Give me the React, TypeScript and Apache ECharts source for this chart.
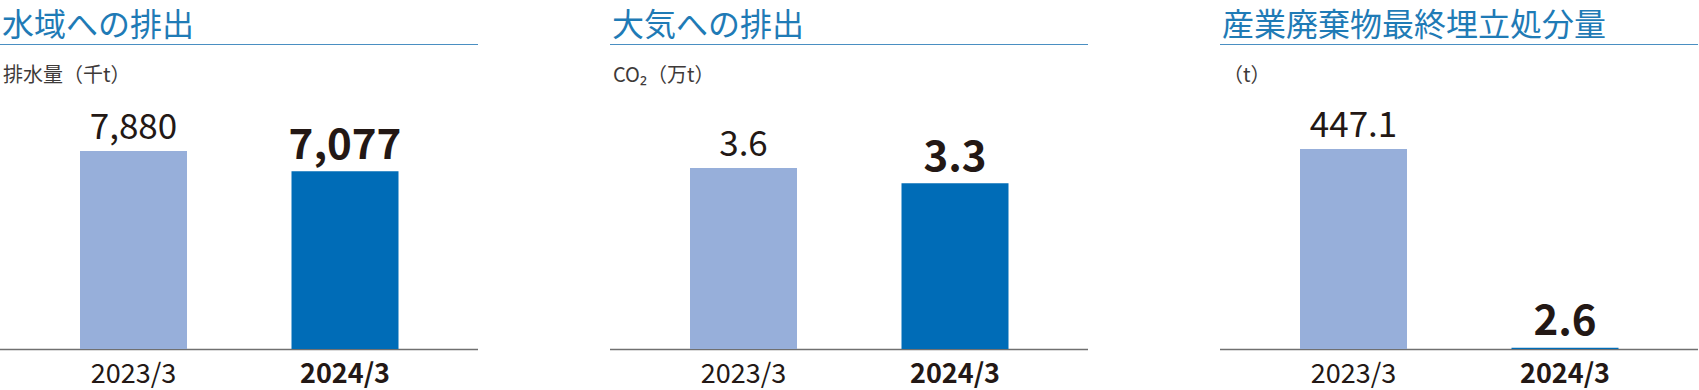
import React, { useEffect, useRef } from "react";
import * as echarts from "echarts";

const categories = ["2023/3", "2024/3"];
const waterDischarge = [7880, 7077];
const airEmissions = [3.6, 3.3];
const landfillWaste = [447.1, 2.6];
const panelTitles = ["水域への排出", "大気への排出", "産業廃棄物最終埋立処分量"];
const unitLabels = ["排水量（千t）", "CO₂（万t）", "（t）"];
const axisMax = [10000, 5, 562];
const decimals = [0, 1, 1];

const FONT = '"Noto Sans CJK JP", "Noto Sans", sans-serif';
const INK = "#231815";
const TITLE_BLUE = "#1f7bb6";
const LIGHT_BAR = "#97afda";
const DARK_BAR = "#006cb7";

const fmt = (v: number, d: number) =>
  v.toLocaleString("en-US", { minimumFractionDigits: d, maximumFractionDigits: d });

export default function App() {
  const ref = useRef<HTMLDivElement>(null);
  useEffect(() => {
    if (!ref.current) return;
    const chart = echarts.init(ref.current, undefined, { renderer: "svg" });
    const seriesValues = [waterDischarge, airEmissions, landfillWaste];
    const P = [1, 611, 1221];
    const PW = 477;
    const baseY = 349;
    const gridTop = 97.7;
    const gridH = baseY - gridTop;

    const titles: any[] = [];
    const graphics: any[] = [];
    P.forEach((px, i) => {
      titles.push({
        text: panelTitles[i],
        left: px + 1,
        top: 6,
        padding: 0,
        textStyle: {
          fontFamily: FONT,
          fontSize: 32,
          lineHeight: 32,
          fontWeight: "normal",
          color: TITLE_BLUE,
        },
      });
      titles.push({
        text: unitLabels[i],
        left: px + 2,
        top: 63,
        padding: 0,
        textStyle: { fontFamily: FONT, fontSize: 20, fontWeight: "normal", color: "#3e3a39" },
      });
      graphics.push({
        type: "line",
        shape: { x1: px - 1, y1: 44.5, x2: px + PW, y2: 44.5 },
        style: { stroke: "#4a8fc2", lineWidth: 1.2 },
        z: 1,
      });
      graphics.push({
        type: "line",
        shape: { x1: px - 1, y1: baseY + 0.5, x2: px + PW, y2: baseY + 0.5 },
        style: { stroke: "#707070", lineWidth: 1.5 },
        z: 1,
      });
    });

    const grids = P.map((px) => ({
      left: px + 26.75,
      width: 423,
      top: gridTop,
      height: gridH,
      containLabel: false,
    }));

    const xAxes = P.map((_, i) => ({
      type: "category",
      gridIndex: i,
      data: categories.map((c, j) =>
        j === 1 ? { value: c, textStyle: { fontWeight: "bold" } } : { value: c }
      ),
      axisLine: { show: false },
      axisTick: { show: false },
      axisLabel: {
        margin: 9,
        fontFamily: FONT,
        fontSize: 27,
        color: INK,
      },
    }));

    const yAxes = P.map((_, i) => ({
      type: "value",
      gridIndex: i,
      min: 0,
      max: axisMax[i],
      show: false,
      splitLine: { show: false },
    }));

    const series = seriesValues.map((vals, i) => ({
      type: "bar",
      xAxisIndex: i,
      yAxisIndex: i,
      barWidth: 107,
      z: 3,
      label: {
        show: true,
        position: "top",
        distance: 10,
        fontFamily: FONT,
        fontSize: 35,
        color: INK,
        formatter: (p: any) => fmt(p.value, decimals[i]),
      },
      data: vals.map((v, j) => ({
        value: v,
        itemStyle: { color: j === 0 ? LIGHT_BAR : DARK_BAR },
        label: j === 1 ? { fontSize: 42, fontWeight: "bold" } : {},
      })),
    }));

    chart.setOption({
      animation: false,
      backgroundColor: "#ffffff",
      title: titles,
      grid: grids,
      xAxis: xAxes,
      yAxis: yAxes,
      series,
      graphic: graphics,
    });
    return () => chart.dispose();
  }, []);
  return (
    <div
      ref={ref}
      style={{ position: "absolute", left: 0, top: 0, width: 1699, height: 390 }}
    />
  );
}
